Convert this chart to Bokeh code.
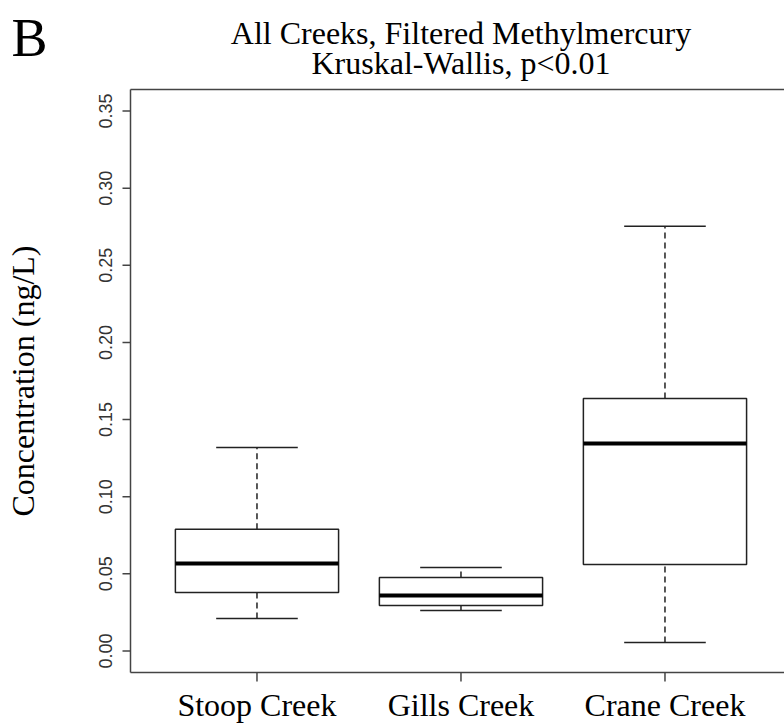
import math
from bokeh.plotting import figure
from bokeh.models import Range1d, ColumnDataSource
from bokeh.core.properties import value
from bokeh.embed import file_html
from bokeh.resources import INLINE

# Filtered methylmercury summary per creek (ng/L)
creeks = ["Stoop Creek", "Gills Creek", "Crane Creek"]
lower_whisker = [0.0210, 0.0262, 0.0054]
q1 = [0.0379, 0.0294, 0.0560]
median = [0.0567, 0.0359, 0.1345]
q3 = [0.0788, 0.0476, 0.1637]
upper_whisker = [0.1319, 0.0541, 0.2753]

y_ticks = [0.00, 0.05, 0.10, 0.15, 0.20, 0.25, 0.30, 0.35]
y_tick_labels = ["0.00", "0.05", "0.10", "0.15", "0.20", "0.25", "0.30", "0.35"]

title_lines = ["All Creeks, Filtered Methylmercury", "Kruskal-Wallis, p<0.01"]
y_title = "Concentration (ng/L)"
panel_letter = "B"

W, H = 784, 725
serif = "Liberation Serif"
sans = "Liberation Sans"
axis_col = "#444444"
box_col = "#222222"

# plotting region in data units (R-style 4 % padding around 0.5..3.5 and 0..0.35)
xlo, xhi = 0.38, 3.62
ylo, yhi = -0.014, 0.364
# pixel placement of that region on the canvas
left_px, top_px, bottom_px = 130.0, 89.0, 672.0
sx = 204.0                                    # px per x unit
sy = (bottom_px - top_px) / (yhi - ylo)       # px per y unit

X0 = xlo - left_px / sx
Y1 = yhi + top_px / sy


def cx(px):
    """canvas pixel column -> x data value"""
    return X0 + px / sx


def cy(py):
    """canvas pixel row (from top) -> y data value"""
    return Y1 - py / sy


p = figure(width=W, height=H, output_backend="svg", toolbar_location=None,
           x_axis_type=None, y_axis_type=None, min_border=0,
           x_range=Range1d(X0, X0 + W / sx), y_range=Range1d(Y1 - H / sy, Y1))
p.title.visible = False
p.outline_line_color = None
p.background_fill_color = "white"
p.border_fill_color = "white"

pos = [i + 1 for i in range(len(creeks))]
box_w = 0.8
cap_w = 0.4

src = ColumnDataSource(dict(x=pos, lw=lower_whisker, q1=q1, med=median,
                            q3=q3, uw=upper_whisker,
                            left=[v - box_w / 2 for v in pos],
                            right=[v + box_w / 2 for v in pos],
                            cl=[v - cap_w / 2 for v in pos],
                            cr=[v + cap_w / 2 for v in pos]))

# whiskers (dashed), caps, boxes, medians
p.segment("x", "q3", "x", "uw", source=src, line_color=box_col, line_width=1.5, line_dash="6 4")
p.segment("x", "lw", "x", "q1", source=src, line_color=box_col, line_width=1.5, line_dash="6 4")
p.segment("cl", "uw", "cr", "uw", source=src, line_color=box_col, line_width=1.5)
p.segment("cl", "lw", "cr", "lw", source=src, line_color=box_col, line_width=1.5)
p.quad(left="left", right="right", bottom="q1", top="q3", source=src,
       fill_color="white", line_color=box_col, line_width=1.5)
p.segment("left", "med", "right", "med", source=src, line_color="black", line_width=4)

# plot box: left, top and bottom edges
xend = X0 + W / sx
p.segment(x0=[xlo, xlo, xlo], y0=[ylo, yhi, ylo], x1=[xlo, xend, xend], y1=[yhi, yhi, ylo],
          line_color=axis_col, line_width=1.5)

# y axis: ticks, rotated tick labels, title
ytick_len = 8
p.segment(x0=[xlo] * len(y_ticks), y0=y_ticks,
          x1=[xlo - ytick_len / sx] * len(y_ticks), y1=y_ticks,
          line_color=axis_col, line_width=1.5)
p.text(x=[cx(105)] * len(y_ticks), y=y_ticks, text=y_tick_labels, angle=math.pi / 2,
       text_align="center", text_baseline="alphabetic",
       text_font=value(sans), text_font_size=value("18px"), text_color="#333333")
p.text(x=[cx(22)], y=[(ylo + yhi) / 2], text=[y_title], angle=math.pi / 2,
       text_align="center", text_baseline="alphabetic",
       text_font=value(serif), text_font_size=value("32px"), text_color="black")

# x axis: ticks and category labels
xtick_len = 9
p.segment(x0=pos, y0=[ylo] * len(pos), x1=pos, y1=[ylo - xtick_len / sy] * len(pos),
          line_color=axis_col, line_width=1.5)
p.text(x=pos, y=[cy(704)] * len(pos), text=creeks,
       text_align="center", text_baseline="alphabetic",
       text_font=value(serif), text_font_size=value("32px"), text_color="black")

# two-line title centred over the plot region
p.text(x=[(xlo + xhi) / 2] * 2, y=[cy(32), cy(62)], text=title_lines,
       text_align="center", text_baseline="alphabetic",
       text_font=value(serif), text_font_size=value("32px"), text_color="black")

# panel letter
p.text(x=[cx(11)], y=[cy(37)], text=[panel_letter],
       text_align="left", text_baseline="alphabetic",
       text_font=value(serif), text_font_size=value("54px"), text_color="black")

open("out.html", "w").write(file_html(p, INLINE))
